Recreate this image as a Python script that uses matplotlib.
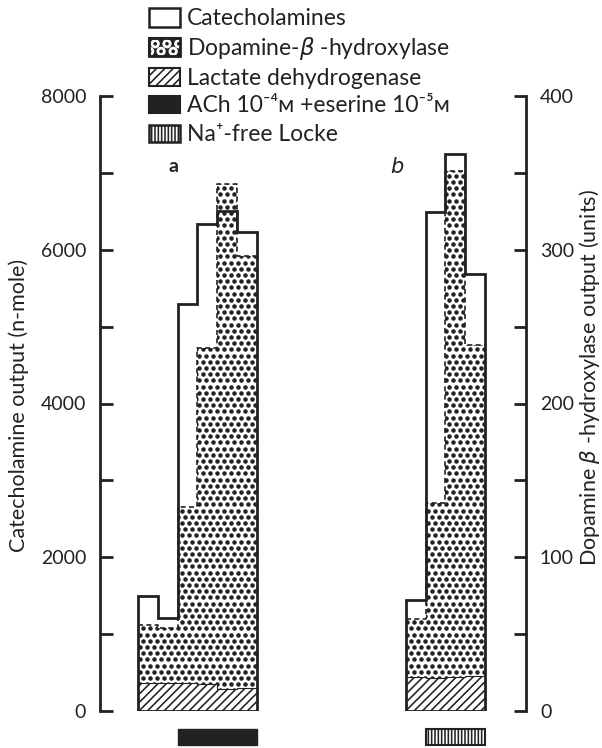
import numpy as np
import matplotlib
matplotlib.use("Agg")
import matplotlib.pyplot as plt
from matplotlib.patches import Polygon, Rectangle, Circle

# ---------------- data ----------------
# group a (ACh + eserine), group b (Na+-free Locke)
cat_a = [1500, 1210, 5290, 6330, 6500, 6230]      # catecholamines (n-mole)
dbh_a = [56, 54, 133, 236, 343, 296]              # dopamine-beta-hydroxylase (units)
ldh_a = [370, 370, 360, 350, 290, 300]            # lactate dehydrogenase (plotted on left scale)
cat_b = [1446, 6490, 7245, 5680]
dbh_b = [60, 135, 351, 238]
ldh_b = [440, 430, 440, 450]
stim_a = (2, 6)   # ACh period: sample indices
stim_b = (1, 4)   # Na-free period
left_ticks = [0, 1000, 2000, 3000, 4000, 5000, 6000, 7000, 8000]
right_ticks = [0, 50, 100, 150, 200, 250, 300, 350, 400]
legend_labels = ["Catecholamines", "Dopamine-$\\beta$ -hydroxylase", "Lactate dehydrogenase",
                 "ACh 10\u207b\u2074\u1d0d +eserine 10\u207b\u2075\u1d0d", "Na\u207a-free Locke"]

FAM = ["Lato", "DejaVu Sans"]
plt.rcParams["font.family"] = FAM
plt.rcParams["hatch.linewidth"] = 1.15
plt.rcParams["mathtext.fontset"] = "dejavusans"
INK = "#222222"

W, H = 602, 748
fig = plt.figure(figsize=(W / 100, H / 100), dpi=100)
fig.patch.set_facecolor("white")

# main axes geometry (pixels)
xl, xr, yb, yt = 100, 526, 711, 96
ax = fig.add_axes([xl / W, (H - yb) / H, (xr - xl) / W, (yb - yt) / H])
XMAX = 21.57
ax.set_xlim(0, XMAX)
ax.set_ylim(0, 8000)
ax.patch.set_alpha(0)
ratio = 8000 / 400.0  # left units per right unit

start_a, start_b = 1.93, 15.49

px_x = XMAX / (xr - xl)     # data x per pixel
px_y = 8000 / (yb - yt)     # data y per pixel


def step_poly(start, vals):
    pts = [(start, 0)]
    for i, v in enumerate(vals):
        pts.append((start + i, v))
        pts.append((start + i + 1, v))
    pts.append((start + len(vals), 0))
    return np.array(pts)


def draw_group(start, cat, dbh, ldh):
    dbh_l = [d * ratio for d in dbh]
    n = len(cat)
    # DBH dotted region
    poly = Polygon(step_poly(start, dbh_l), closed=True, facecolor="white",
                   edgecolor="none", zorder=1)
    ax.add_patch(poly)
    top = max(dbh_l) + 200
    sx, sy = 7.0, 6.2
    xs, ys = [], []
    row = 0
    y = 2.0
    while y * px_y < top:
        off = (sx / 2) if row % 2 else 0
        x = 1.5 + off
        while x * px_x < n:
            xs.append(start + x * px_x)
            ys.append(y * px_y)
            x += sx
        y += sy
        row += 1
    dots = ax.scatter(xs, ys, s=10.5, c=INK, linewidths=0, zorder=2)
    dots.set_clip_path(poly)
    # LDH hatched region
    ax.add_patch(Polygon(step_poly(start, ldh), closed=True, facecolor="white",
                         edgecolor=INK, hatch="////", linewidth=0.8, zorder=3))
    # DBH dashed outline
    p = step_poly(start, dbh_l)[1:-1]
    ax.plot(p[:, 0], p[:, 1], color=INK, lw=1.2, ls=(0, (3, 2)), zorder=4)
    # catecholamine solid outline
    c = step_poly(start, cat)
    c = np.vstack([c, c[:1]])
    ax.plot(c[:, 0], c[:, 1], color=INK, lw=2.0, zorder=5,
            solid_joinstyle="miter")


draw_group(start_a, cat_a, dbh_a, ldh_a)
draw_group(start_b, cat_b, dbh_b, ldh_b)

# stimulation indicator bars
y0, y1 = -(745 - yb) * px_y, -(729 - yb) * px_y
ax.add_patch(Rectangle((start_a + stim_a[0], y0), stim_a[1] - stim_a[0], y1 - y0,
                       facecolor=INK, edgecolor=INK, lw=1, clip_on=False))
ax.add_patch(Rectangle((start_b + stim_b[0], y0), stim_b[1] - stim_b[0], y1 - y0,
                       facecolor="white", edgecolor=INK, hatch="|||||", lw=1.5,
                       clip_on=False))

# group letters
ax.text(start_a + 1.8, 7080, "a", fontsize=14, fontweight="bold", ha="center",
        va="center", color=INK)
ax.text(15.04, 7080, "b", fontsize=15, style="italic", ha="center", va="center",
        color=INK, family=["DejaVu Sans"])

# left axis
for s in ["top", "bottom", "right"]:
    ax.spines[s].set_visible(False)
ax.spines["left"].set_linewidth(2.0)
ax.spines["left"].set_color(INK)
ax.set_xticks([])
ax.set_yticks(left_ticks)
ax.set_yticklabels([str(t) if t % 2000 == 0 else "" for t in left_ticks])
ax.tick_params(axis="y", direction="in", length=9, width=2, color=INK,
               labelsize=14, pad=10, labelcolor=INK)

# right axis
ax2 = ax.twinx()
ax2.set_ylim(0, 400)
for s in ["top", "bottom", "left"]:
    ax2.spines[s].set_visible(False)
ax2.spines["right"].set_linewidth(2.0)
ax2.spines["right"].set_color(INK)
ax2.set_yticks(right_ticks)
ax2.set_yticklabels([str(t) if t % 100 == 0 else "" for t in right_ticks])
ax2.tick_params(axis="y", direction="in", length=9, width=2, color=INK,
                labelsize=14, pad=10, labelcolor=INK)

# axis titles placed at the reference positions
fig.text(19 / W, 1 - 405 / H, "Catecholamine output (n-mole)", rotation=90,
         fontsize=15.5, color=INK, ha="center", va="center")
fig.text(589 / W, 1 - 378 / H, "Dopamine $\\beta$ -hydroxylase output (units)",
         rotation=90, fontsize=15.5, color=INK, ha="center", va="center")

# legend (figure pixel coords overlay)
lg = fig.add_axes([0, 0, 1, 1])
lg.set_xlim(0, W)
lg.set_ylim(H, 0)
lg.axis("off")
lg.patch.set_alpha(0)
bx, bw = 149, 31
rows = [(8, 27), (38, 56), (68, 86), (96, 113), (125, 142)]
styles = [dict(facecolor="white", edgecolor=INK, lw=1.8),
          dict(facecolor=INK, edgecolor=INK, lw=1.5),
          dict(facecolor="white", edgecolor=INK, lw=1.5, hatch="////"),
          dict(facecolor=INK, edgecolor=INK, lw=1.5),
          dict(facecolor="white", edgecolor=INK, lw=1.8, hatch="|||||")]
boxes = []
for (ya, yb_), st, lab in zip(rows, styles, legend_labels):
    r = Rectangle((bx, ya), bw, yb_ - ya, **st)
    lg.add_patch(r)
    boxes.append(r)
    lg.text(bx + bw + 7, (ya + yb_) / 2 + 1, lab, fontsize=16.5, va="center",
            ha="left", color=INK)
# enlarged dot pattern inside DBH legend key
ya, yb_ = rows[1]
hgt = yb_ - ya
for (cx, cy) in [(0.2, 0.32), (0.58, 0.32), (0.96, 0.32),
                 (0.02, 0.74), (0.39, 0.74), (0.78, 0.74)]:
    X, Y = bx + cx * bw, ya + cy * hgt
    circ = Circle((X, Y), 4.6, facecolor="white", edgecolor="none")
    lg.add_patch(circ)
    circ.set_clip_path(boxes[1])
    d = Circle((X, Y), 1.8, facecolor=INK, edgecolor="none")
    lg.add_patch(d)
    d.set_clip_path(boxes[1])
# redraw border of the DBH key on top
lg.add_patch(Rectangle((bx, ya), bw, hgt, facecolor="none", edgecolor=INK, lw=2))

fig.savefig("out.png", dpi=100, facecolor="white")
